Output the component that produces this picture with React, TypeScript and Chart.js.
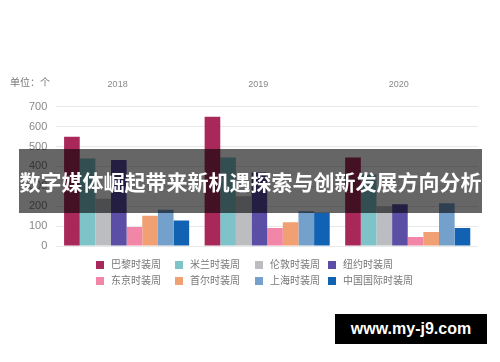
import React, { useEffect, useRef } from "react";
import { Chart, registerables } from "chart.js";

Chart.register(...registerables);

const years = ["2018", "2019", "2020"];
const seriesNames = ["巴黎时装周", "米兰时装周", "伦敦时装周", "纽约时装周", "东京时装周", "首尔时装周", "上海时装周", "中国国际时装周"];
const seriesColors = ["#a8285a", "#7dc3c8", "#bcbdc1", "#5a4fa5", "#f286a6", "#f0a072", "#74a0cc", "#1262b4"];
const paris = [550, 650, 445];
const milan = [440, 445, 360];
const london = [237, 250, 200];
const newYork = [433, 370, 210];
const tokyo = [96, 90, 45];
const seoul = [152, 120, 70];
const shanghai = [182, 175, 215];
const chinaIntl = [128, 167, 90];
const seriesValues = [paris, milan, london, newYork, tokyo, seoul, shanghai, chinaIntl];
const unitLabel = "单位：个";
const bannerText = "数字媒体崛起带来新机遇探索与创新发展方向分析";
const watermarkText = "www.my-j9.com";

const FONT = "'Liberation Sans', 'Noto Sans CJK SC', sans-serif";

const legendPlugin = {
  id: "gridLegend",
  afterDraw(chart: any) {
    const ctx = chart.ctx;
    ctx.save();
    ctx.font = `10px ${FONT}`;
    ctx.fillStyle = "#777";
    ctx.textBaseline = "middle";
    ctx.textAlign = "left";
    ctx.fillText(unitLabel, 2, 75);
    const cols = [88, 167, 247, 320];
    const rows = [257, 273];
    chart.data.datasets.forEach((ds: any, i: number) => {
      const cx = cols[i % 4];
      const cy = rows[Math.floor(i / 4)];
      ctx.fillStyle = ds.backgroundColor;
      ctx.fillRect(cx, cy - 4, 8, 8);
      ctx.fillStyle = "#777";
      ctx.font = `10px ${FONT}`;
      ctx.fillText(ds.label, cx + 15, cy + 0.5);
    });
    ctx.restore();
  },
};

export default function App() {
  const ref = useRef<HTMLCanvasElement>(null);
  useEffect(() => {
    if (!ref.current) return;
    const chart = new Chart(ref.current, {
      type: "bar",
      data: {
        labels: years,
        datasets: seriesNames.map((name, i) => ({
          label: name,
          data: seriesValues[i],
          backgroundColor: seriesColors[i],
          borderWidth: 0,
          categoryPercentage: 0.89,
          barPercentage: 1.0,
        })),
      },
      options: {
        animation: false,
        responsive: true,
        maintainAspectRatio: false,
        layout: { padding: { top: 62, left: 12, right: 14, bottom: 108 } },
        plugins: {
          legend: { display: false },
          tooltip: { enabled: false },
        },
        scales: {
          x: {
            position: "top",
            grid: { display: false },
            border: { display: false },
            ticks: {
              color: "#888",
              font: { size: 9, family: FONT },
              padding: 9,
              labelOffset: -9,
            },
          },
          y: {
            min: 0,
            max: 700,
            grid: { color: "#e8e8e8", drawTicks: false, lineWidth: 1 },
            border: { display: false },
            ticks: {
              stepSize: 100,
              color: "#888",
              font: { size: 11, family: FONT },
              padding: 9,
            },
          },
        },
      },
      plugins: [legendPlugin],
    });
    return () => chart.destroy();
  }, []);

  return (
    <div style={{ position: "relative", width: 484, height: 346 }}>
      <canvas ref={ref} />
      <div
        style={{
          position: "absolute",
          left: 11,
          top: 141,
          width: 463,
          height: 64,
          background: "rgba(0,0,0,0.6)",
          color: "#fff",
          fontFamily: "'Noto Sans CJK SC', sans-serif",
          fontWeight: 700,
          fontSize: 21,
          lineHeight: "64px",
          textAlign: "center",
          whiteSpace: "nowrap",
        }}
      >
        {bannerText}
      </div>
      <div
        style={{
          position: "absolute",
          left: 327,
          top: 306,
          width: 152,
          height: 30,
          background: "#000",
          color: "#fff",
          fontFamily: "'Liberation Sans', sans-serif",
          fontWeight: 700,
          fontSize: 16,
          lineHeight: "30px",
          textAlign: "center",
        }}
      >
        {watermarkText}
      </div>
    </div>
  );
}
